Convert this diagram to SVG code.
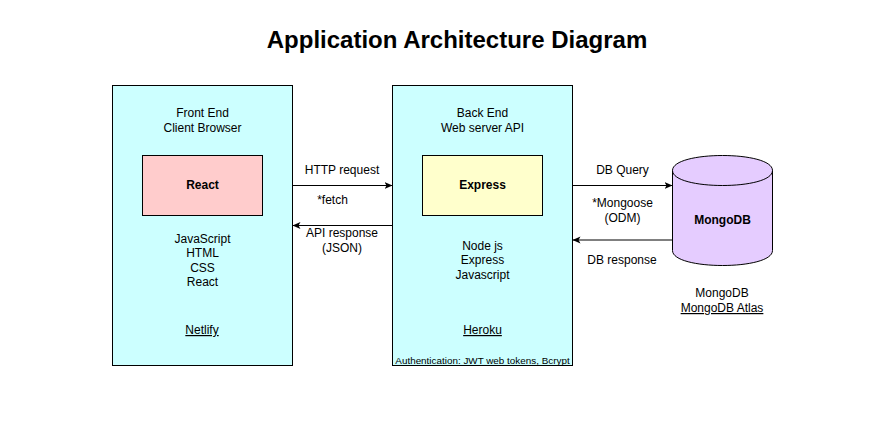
<svg xmlns="http://www.w3.org/2000/svg" width="885" height="440" viewBox="0 0 885 440">
<style>
text{font-family:"Liberation Sans",Arial,sans-serif;font-size:12px;fill:#000;text-anchor:middle}
.t{font-size:24px;font-weight:bold}
.b{font-weight:bold}
.u{text-decoration:underline}
.s{font-size:9.900px}
.box{stroke:#000;stroke-width:1}
.c{fill:none;stroke:#000;stroke-width:1;marker-end:url(#a)}
</style>
<defs><marker id="a" viewBox="0 0 9 9" refX="8" refY="4.500" markerWidth="9" markerHeight="9" markerUnits="userSpaceOnUse" orient="auto"><path d="M0 1L8 4.500L0 8L2 4.500Z" fill="#000"/></marker></defs>
<rect width="885" height="440" fill="#fff"/>
<text class="t" x="457" y="48">Application Architecture Diagram</text>
<g id="frontend">
<rect class="box" x="112.500" y="85.500" width="180" height="280" fill="#ccffff"/>
<text x="202.500" y="117">Front End</text><text x="202.500" y="132">Client Browser</text>
<text x="202.500" y="243">JavaScript</text><text x="202.500" y="257">HTML</text><text x="202.500" y="272">CSS</text><text x="202.500" y="286">React</text>
<text class="u" x="202" y="334">Netlify</text>
</g>
<g id="react"><rect class="box" x="142.500" y="155.500" width="120" height="60" fill="#ffcccc"/><text class="b" x="202.500" y="189">React</text></g>
<g id="backend">
<rect class="box" x="392.500" y="85.500" width="180" height="280" fill="#ccffff"/>
<text x="482.500" y="117">Back End</text><text x="482.500" y="132">Web server API</text>
<text x="482.500" y="250">Node js</text><text x="482.500" y="264">Express</text><text x="482.500" y="279">Javascript</text>
<text class="u" x="482.500" y="334">Heroku</text>
<text class="s" x="482.500" y="364">Authentication: JWT web tokens, Bcrypt</text>
</g>
<g id="express"><rect class="box" x="422.500" y="155.500" width="120" height="60" fill="#ffffcc"/><text class="b" x="482.500" y="189">Express</text></g>
<g id="mongodb">
<path class="box" d="M672.500 170.500C672.500 150.500 772.500 150.500 772.500 170.500V250.500C772.500 270.500 672.500 270.500 672.500 250.500Z" fill="#e5ccff"/>
<path class="box" d="M672.500 170.500C672.500 190.500 772.500 190.500 772.500 170.500" fill="none"/>
<text class="b" x="722.500" y="224">MongoDB</text>
<text x="722" y="297">MongoDB</text><text class="u" x="722" y="312">MongoDB Atlas</text>
</g>
<g id="connectors">
<path class="c" d="M292.500 185.500H392.500"/><path class="c" d="M392.500 225.500H292.500"/>
<path class="c" d="M572.500 185.500H672.500"/><path class="c" d="M672.500 240H572.500"/>
<text x="342" y="174">HTTP request</text><text x="332.500" y="204">*fetch</text>
<text x="342" y="237">API response</text><text x="342" y="252">(JSON)</text>
<text x="622.500" y="174">DB Query</text><text x="622.500" y="207">*Mongoose</text><text x="622.500" y="222">(ODM)</text>
<text x="622" y="264">DB response</text>
</g>
</svg>
